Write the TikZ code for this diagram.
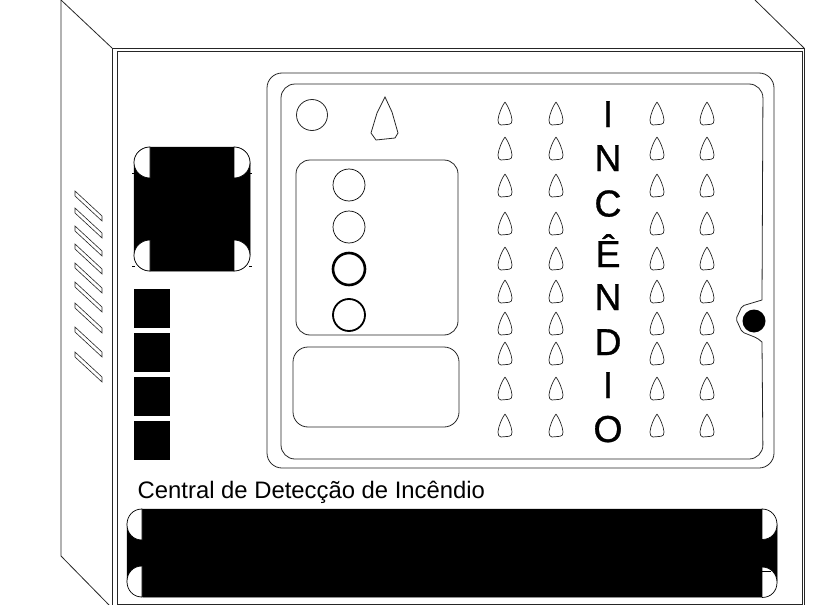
\documentclass[tikz,border=0pt]{standalone}
\usepackage{fontspec}
\setmainfont{Liberation Sans}
\newfontfamily\letrafont[FakeBold=0.8]{Liberation Sans}

\tikzset{linha/.style = {line width=0.8pt, black!85},
         bloco/.style = {fill=black, draw=black, line width=0.5pt},
         canto/.style = {fill=white, draw=black, line width=0.7pt},
         letra/.style = {inner sep=0pt, anchor=base, font=\letrafont\fontsize{37.5}{40}\selectfont},
         legenda/.style = {inner sep=0pt, anchor=base west, font=\fontsize{23.85}{26}\selectfont}
        }

\begin{document}
\begin{tikzpicture}[x=1pt, y=-1pt]
  \useasboundingbox (0, 0) rectangle (823, 605);
  % caixa
  \draw[linha] (61, 0) -- (61, 556) -- (110, 606);
  \draw[linha] (61, 0) -- (112, 48);
  \draw[linha] (755, 0) -- (804, 48);
  \draw[linha] (112, 606) -- (112, 48) -- (804, 48) -- (804, 606);
  \draw[linha] (117, 604) -- (117, 51) -- (802, 51) -- (802, 604) -- cycle;
  % ventilacao
  \foreach \y in {191, 208, 226, 244, 263, 282, 303, 327, 352}
      {\draw[linha, line width=0.6pt] (75, \y) -- (102, \y + 25) -- (102, \y + 30) -- (75, \y + 5) -- cycle;};
  % painel
  \draw[linha, rounded corners=15pt] (267, 73) rectangle (774, 468);
  \draw[linha, rounded corners=14pt] (762, 342) -- (763, 459) -- (281, 459) -- (281, 84) -- (763, 84) -- (762, 300);
  \draw[linha, rounded corners=2pt] (762, 300) -- (742, 306) -- (736, 319) -- (742, 332) -- (757, 338) -- (762, 342);
  \draw[linha, rounded corners=14pt] (296, 160) rectangle (458, 335);
  \draw[linha, rounded corners=15pt] (293, 347) rectangle (459, 427);
  \draw[linha] (312, 115) circle (15.5);
  \draw[linha] (385, 97) -- (392, 112) -- (398, 133) -- (395, 138) -- (376, 140) -- (371, 133) -- (377, 113) -- cycle;
  \fill (754, 321) circle (11.5);
  % leds
  \foreach \y/\w in {185/0.7, 227/0.7, 269/2.6, 315/1.8} {\draw[line width=\w pt] (349, \y) circle (16);};
  \foreach \x in {505, 556, 657, 707}
    \foreach \y in {102, 137, 174, 212, 247, 280, 312, 342, 377, 414}
      {\draw[linha, line width=0.7pt] (\x, \y) .. controls (\x + 3, \y + 4) and (\x + 6.5, \y + 12) .. (\x + 7, \y + 18)
          .. controls (\x + 7.2, \y + 21) and (\x + 6, \y + 22) .. (\x + 4, \y + 22.3) -- (\x - 4, \y + 23)
          .. controls (\x - 6, \y + 23) and (\x - 7.2, \y + 21) .. (\x - 7, \y + 18)
          .. controls (\x - 6.5, \y + 12) and (\x - 3, \y + 4) .. (\x, \y);};
  \foreach \t/\y [count=\i] in {I/127, N/171, C/216.5, Ê/267, N/310, D/355, I/398, O/442}
      {\node[letra] (letra\i) at (608, \y) {\t};};
  % blocos pretos
  \draw[bloco, rounded corners=16pt] (134, 147) rectangle (250, 271);
  \foreach \y in {147, 240}
    {\draw[canto] (150, \y) .. controls (141, \y) and (134, \y + 7) .. (134, \y + 15.5)
        .. controls (134, \y + 24) and (141, \y + 31) .. (150, \y + 31) -- cycle;
     \draw[canto] (234, \y) .. controls (243, \y) and (250, \y + 7) .. (250, \y + 15.5)
        .. controls (250, \y + 24) and (243, \y + 31) .. (234, \y + 31) -- cycle;
     \draw[line width=0.6pt] (132, \y + 26) -- (135, \y + 26);
     \draw[line width=0.6pt] (249, \y + 26) -- (252, \y + 26);};
  \foreach \y in {289, 333, 377, 421} {\draw[bloco] (134, \y) rectangle (169, \y + 38);};
  \draw[bloco, rounded corners=16pt] (127, 509) rectangle (777, 597);
  \foreach \y in {509, 566}
    {\draw[canto] (142, \y) .. controls (133, \y) and (127, \y + 7) .. (127, \y + 15.5)
        .. controls (127, \y + 24) and (133, \y + 31) .. (142, \y + 31) -- cycle;};
  \foreach \y in {509, 567}
    {\draw[canto] (762, \y) .. controls (771, \y) and (777, \y + 7) .. (777, \y + 15.5)
        .. controls (777, \y + 24) and (771, \y + 30.5) .. (762, \y + 30.5) -- cycle;};
  \draw[line width=0.7pt] (762, 571) -- (771, 571);
  \node[legenda] (titulo) at (137.5, 498) {Central de Detecção de Incêndio};
\end{tikzpicture}
\end{document}
